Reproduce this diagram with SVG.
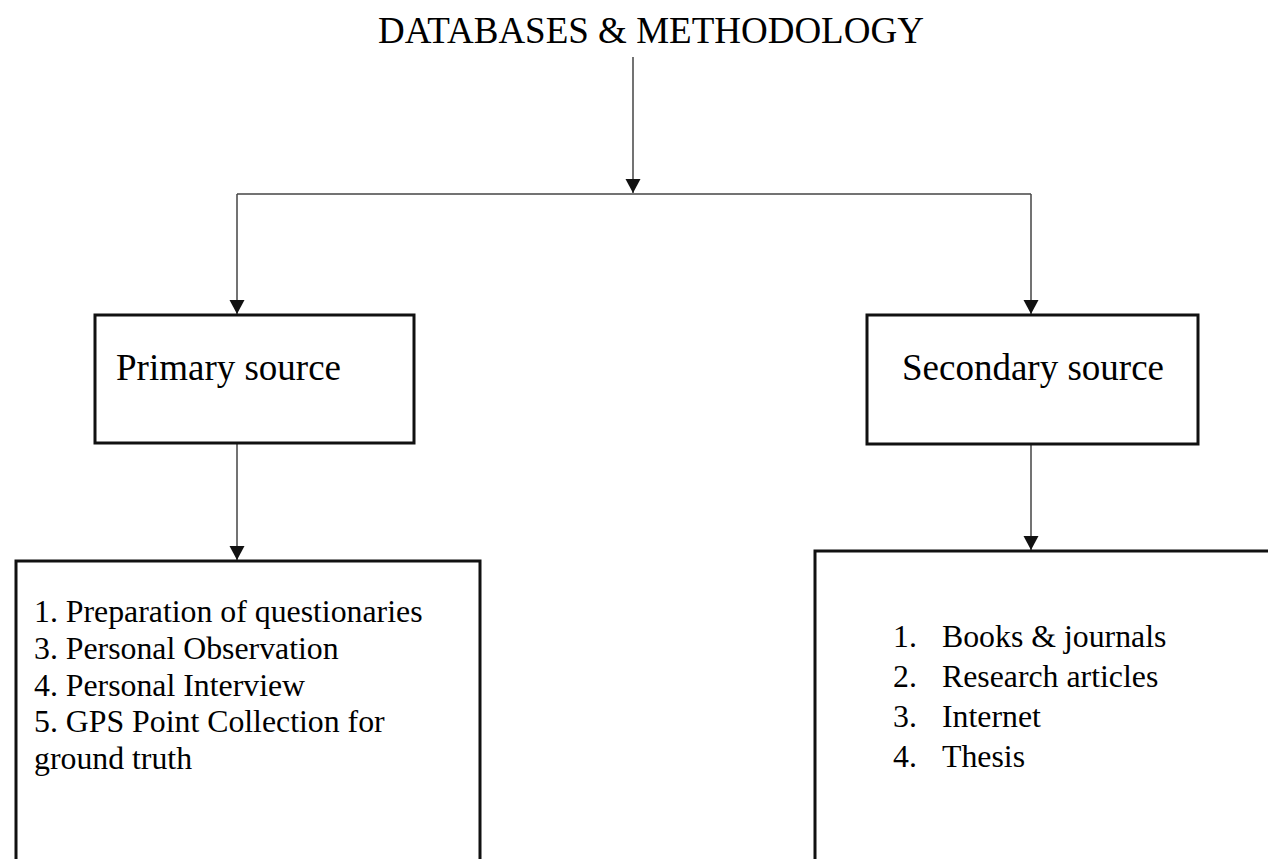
<svg xmlns="http://www.w3.org/2000/svg" width="1268" height="859" viewBox="0 0 1268 859">
<style>
  .t { font-family: "Liberation Serif", "Times New Roman", serif; fill: #000; }
  .title { font-size: 37px; }
  .head { font-size: 37px; }
  .item { font-size: 31.8px; }
  .box { fill: #fff; stroke: #111; stroke-width: 3; }
  .conn { fill: none; stroke: #444; stroke-width: 1.5; }
</style>
<defs>
  <marker id="arrd" markerUnits="userSpaceOnUse" markerWidth="16" markerHeight="16" refX="14" refY="7.5" orient="auto" viewBox="0 0 16 16">
    <path d="M0,0 L14,7.5 L0,15 Z" fill="#111"/>
  </marker>
</defs>
<rect width="1268" height="859" fill="#fff"/>

<g id="title">
  <text class="t title" x="378" y="43">DATABASES &amp; METHODOLOGY</text>
</g>

<g id="connectors">
  <line class="conn" x1="633" y1="57" x2="633" y2="193" marker-end="url(#arrd)"/>
  <polyline class="conn" points="237,194 1031,194"/>
  <line class="conn" x1="237" y1="194" x2="237" y2="314" marker-end="url(#arrd)"/>
  <line class="conn" x1="1031" y1="194" x2="1031" y2="314" marker-end="url(#arrd)"/>
  <line class="conn" x1="237" y1="444" x2="237" y2="560" marker-end="url(#arrd)"/>
  <line class="conn" x1="1031" y1="445" x2="1031" y2="550" marker-end="url(#arrd)"/>
</g>

<g id="primary">
  <rect class="box" x="95" y="315" width="319" height="128"/>
  <text class="t head" x="116" y="380">Primary source</text>
</g>

<g id="secondary">
  <rect class="box" x="867" y="315" width="331" height="129"/>
  <text class="t head" x="902" y="380">Secondary source</text>
</g>

<g id="primary-list">
  <path class="box" d="M16,870 L16,561 L480,561 L480,870"/>
  <text class="t item" x="34" y="622">1. Preparation of questionaries</text>
  <text class="t item" x="34" y="659">3. Personal Observation</text>
  <text class="t item" x="34" y="696">4. Personal Interview</text>
  <text class="t item" x="34" y="732">5. GPS Point Collection for</text>
  <text class="t item" x="34" y="769">ground truth</text>
</g>

<g id="secondary-list">
  <path class="box" d="M815,870 L815,551 L1275,551"/>
  <text class="t item" x="893" y="647">1.</text>
  <text class="t item" x="942" y="647">Books &amp; journals</text>
  <text class="t item" x="893" y="687">2.</text>
  <text class="t item" x="942" y="687">Research articles</text>
  <text class="t item" x="893" y="727">3.</text>
  <text class="t item" x="942" y="727">Internet</text>
  <text class="t item" x="893" y="767">4.</text>
  <text class="t item" x="942" y="767">Thesis</text>
</g>
</svg>
